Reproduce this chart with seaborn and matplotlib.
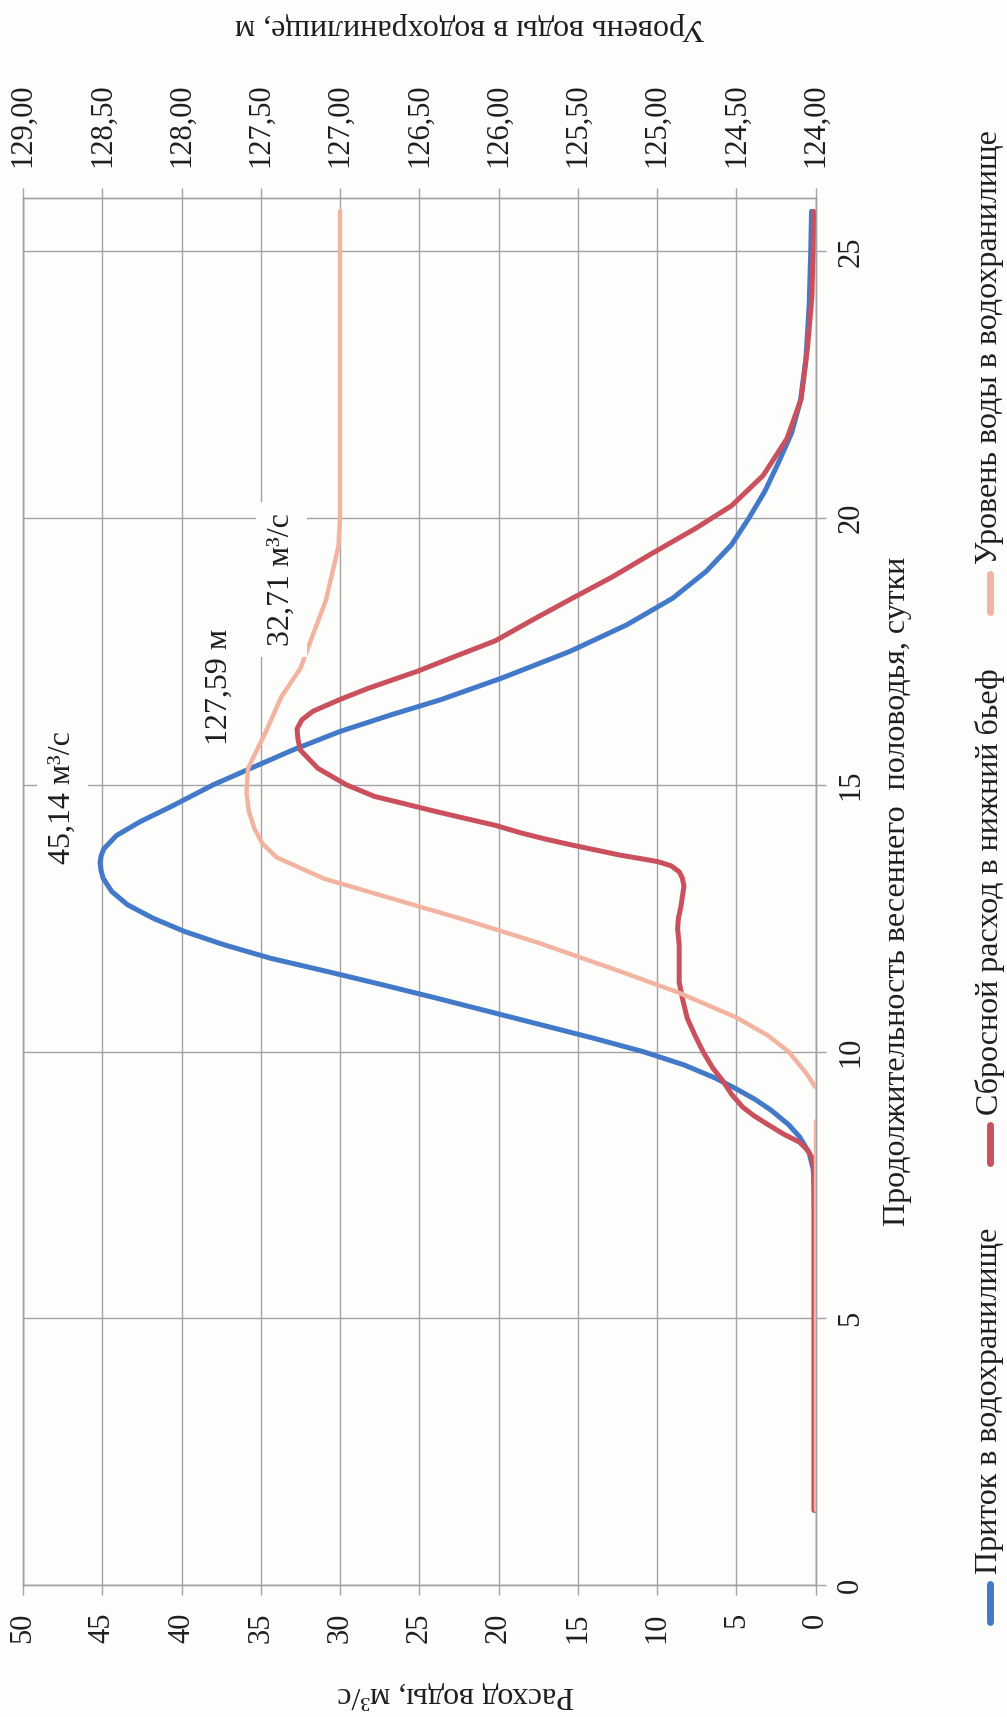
import numpy as np
import pandas as pd
import matplotlib
matplotlib.use("Agg")
import matplotlib.pyplot as plt
import seaborn as sns
from matplotlib.lines import Line2D

# ---- data -------------------------------------------------------------
inflow_day = [1.4, 3.0, 5.0, 6.0, 7.0, 7.5, 7.8, 8.1, 8.4, 8.63, 8.9, 9.1, 9.3, 9.5,
              9.75, 10.0, 10.25, 10.5, 10.75, 11.0, 11.25, 11.5, 11.75, 12.0, 12.25,
              12.5, 12.75, 13.0, 13.25, 13.4, 13.54, 13.67, 13.8, 14.05, 14.31, 14.6,
              15.0, 15.3, 15.65, 16.0, 16.3, 16.6, 17.0, 17.5, 18.0, 18.5, 19.0, 19.5,
              20.0, 20.5, 21.0, 21.6, 22.2, 23.0, 24.0, 25.0, 25.75]
inflow_q = [0.0, 0.0, 0.0, 0.0, 0.03, 0.07, 0.15, 0.4, 1.0, 1.7, 2.8, 3.8, 5.0, 6.3,
            8.3, 10.9, 14.0, 17.3, 20.6, 23.9, 27.3, 30.8, 34.4, 37.3, 39.8,
            41.8, 43.4, 44.4, 44.95, 45.08, 45.14, 45.07, 44.9, 44.1, 42.6, 40.6,
            38.0, 35.7, 33.0, 30.0, 26.9, 23.6, 19.8, 15.5, 11.9, 9.0, 6.9, 5.3,
            4.2, 3.2, 2.4, 1.5, 0.95, 0.6, 0.4, 0.3, 0.25]

release_day = [1.4, 3.0, 5.0, 7.0, 7.8, 8.0, 8.15, 8.3, 8.45, 8.63, 8.8, 8.96, 9.2,
               9.43, 9.7, 10.0, 10.3, 10.63, 11.0, 11.3, 11.7, 12.0, 12.3, 12.5, 12.7,
               12.9, 13.1, 13.25, 13.37, 13.48, 13.56, 13.61, 13.68, 13.78, 13.88,
               13.98, 14.1, 14.24, 14.37, 14.51, 14.65, 14.78, 15.0, 15.31, 15.65,
               15.85, 16.05, 16.22, 16.38, 16.6, 16.8, 17.13, 17.4, 17.7, 18.1, 18.52,
               18.9, 19.34, 19.8, 20.23, 20.8, 21.49, 22.24, 23.2, 24.14, 25.0, 25.75]
release_q = [0.1, 0.1, 0.1, 0.1, 0.12, 0.2, 0.5, 1.0, 2.0, 3.0, 3.9, 4.6, 5.3,
             5.8, 6.5, 7.1, 7.6, 8.1, 8.4, 8.6, 8.6, 8.6, 8.7, 8.65, 8.5,
             8.4, 8.3, 8.4, 8.6, 9.1, 9.95, 10.9, 12.3, 13.9, 15.5,
             17.0, 18.6, 20.2, 22.1, 24.1, 26.0, 27.8, 29.6, 31.4, 32.5,
             32.65, 32.71, 32.4, 31.7, 30.0, 28.3, 25.1, 22.8, 20.2, 17.8, 15.2,
             12.8, 10.3, 7.6, 5.3, 3.3, 1.8, 0.9, 0.5, 0.23, 0.15, 0.12]

# reservoir level: two pieces (before and after the filling starts)
level_day_a = [1.4, 3.0, 5.0, 7.0, 8.7]
level_m_a = [124.0, 124.0, 124.0, 124.0, 124.0]
level_day_b = [9.33, 9.6, 10.0, 10.3, 10.64, 11.1, 11.5, 12.04, 12.44, 12.84, 13.24,
               13.64, 13.9, 14.18, 14.5, 14.85, 15.31, 15.98, 16.65, 17.18, 17.82,
               18.45, 19.08, 19.47, 20.0, 21.0, 22.0, 23.0, 24.0, 25.0, 25.75]
level_m_b = [124.0, 124.06, 124.17, 124.3, 124.5, 124.86, 125.23, 125.75, 126.18,
             126.64, 127.1, 127.4, 127.49, 127.54, 127.575, 127.59, 127.58, 127.47,
             127.37, 127.25, 127.17, 127.09, 127.04, 127.01, 127.0, 127.0, 127.0,
             127.0, 127.0, 127.0, 127.0]

flow_ticks = [0, 5, 10, 15, 20, 25, 30, 35, 40, 45, 50]
day_ticks = [0, 5, 10, 15, 20, 25]
level_ticks = [124.0, 124.5, 125.0, 125.5, 126.0, 126.5, 127.0, 127.5, 128.0, 128.5, 129.0]
level_tick_labels = ["124,00", "124,50", "125,00", "125,50", "126,00", "126,50",
                     "127,00", "127,50", "128,00", "128,50", "129,00"]

series_names = ["Приток в водохранилище", "Сбросной расход в нижний бьеф",
                "Уровень воды в водохранилище"]
day_label = "Продолжительность весеннего  половодья, сутки"
flow_label = "Расход воды, м³/с"
level_label = "Уровень воды в водохранилище, м"

# ---- style ------------------------------------------------------------
BG = "#fdfdfb"
GRID = "#a2a2a8"
C_IN = "#4279c8"
C_OUT = "#c9505c"
C_LEV = "#f2b4a0"
TXT = "#1e1e1e"
FS_TICK = 22
FS_TEXT = 23

sns.set_theme(style="white")
plt.rcParams["font.family"] = ["Liberation Serif", "DejaVu Serif"]
plt.rcParams["text.color"] = TXT

W, H = 1007, 1717
fig = plt.figure(figsize=(W / 100, H / 100), dpi=100, facecolor=BG)
x0, x1, y_top, y_bot = 23, 815.5, 198, 1585
ax = fig.add_axes([x0 / W, 1 - y_bot / H, (x1 - x0) / W, (y_bot - y_top) / H])
ax.set_facecolor(BG)

# the chart is laid out turned on its side: days run upward, discharge runs leftward
df_in = pd.DataFrame({"day": inflow_day, "q": inflow_q})
df_out = pd.DataFrame({"day": release_day, "q": release_q})
sns.lineplot(data=df_in, x="q", y="day", sort=False, estimator=None, orient="y",
             color=C_IN, lw=3.6, ax=ax, zorder=3)
sns.lineplot(data=df_out, x="q", y="day", sort=False, estimator=None, orient="y",
             color=C_OUT, lw=3.6, ax=ax, zorder=4)
for ln in ax.lines:
    ln.set_solid_joinstyle("round")

ax.set_xlim(50, 0)
ax.set_ylim(0, 26)
ax.set_xticks(flow_ticks)
ax.set_xticklabels([str(v) for v in flow_ticks])
ax.set_yticks(day_ticks)
ax.set_yticklabels([str(v) for v in day_ticks])
ax.set_xlabel("")
ax.set_ylabel("")
ax.grid(True, color=GRID, lw=1.0)
ax.set_axisbelow(True)
ax.yaxis.tick_right()
ax.tick_params(axis="x", bottom=True, top=False, direction="out", length=7,
               width=1.0, color=GRID, pad=13, labelsize=FS_TICK, labelrotation=90,
               labelcolor=TXT)
ax.tick_params(axis="y", right=True, left=False, labelright=True, labelleft=False,
               direction="out", length=7, width=1.0, color=GRID, pad=8,
               labelsize=FS_TICK, labelrotation=90, labelcolor=TXT)
for lab in ax.get_yticklabels():
    lab.set_va("center")
for sp in ax.spines.values():
    sp.set_color(GRID)
    sp.set_linewidth(1.0)

# level on the secondary axis (top)
ax2 = ax.twiny()
df_lev = pd.DataFrame({
    "day": level_day_a + level_day_b,
    "level": level_m_a + level_m_b,
    "piece": [0] * len(level_day_a) + [1] * len(level_day_b),
})
sns.lineplot(data=df_lev, x="level", y="day", units="piece", estimator=None,
             sort=False, orient="y", color=C_LEV, lw=3.2, ax=ax2, zorder=5,
             legend=False)
for ln in ax2.lines:
    ln.set_solid_joinstyle("round")
ax2.set_xlim(129, 124)
ax2.set_ylim(0, 26)
ax2.set_xticks(level_ticks)
ax2.set_xticklabels(level_tick_labels)
ax2.set_xlabel("")
ax2.set_ylabel("")
ax2.grid(False)
ax2.tick_params(axis="x", top=True, bottom=False, direction="out", length=7,
                width=1.0, color=GRID, pad=15, labelsize=FS_TICK, labelrotation=90,
                labelcolor=TXT)
ax2.tick_params(axis="y", left=False, right=False, labelleft=False, labelright=False)
for sp in ax2.spines.values():
    sp.set_color(GRID)
    sp.set_linewidth(1.0)

# value notes at the peaks
box = dict(boxstyle="square,pad=0.35", fc=BG, ec="none")
peak_in = max(inflow_q)
peak_out = max(release_q)
peak_lev = max(level_m_b)
ax.text(47.5, 14.76, f"{peak_in:.2f}".replace(".", ",") + " м³/с", rotation=90,
        ha="center", va="center", fontsize=FS_TEXT, bbox=box, zorder=6)
ax2.text(127.76, 16.84, f"{peak_lev:.2f}".replace(".", ",") + " м", rotation=90,
         ha="center", va="center", fontsize=FS_TEXT, bbox=box, zorder=6)
ax2.text(127.37, 18.85, f"{peak_out:.2f}".replace(".", ",") + " м³/с", rotation=90,
         ha="center", va="center", fontsize=FS_TEXT, bbox=box, zorder=6)

# axis titles
fig.text(898 / W, 1 - 891 / H, day_label, rotation=90, ha="center", va="center",
         fontsize=FS_TEXT)
fig.text(456 / W, 1 - 1694 / H, flow_label, rotation=180, ha="center", va="center",
         fontsize=FS_TEXT)
fig.text(470 / W, 1 - 27 / H, level_label, rotation=180, ha="center", va="center",
         fontsize=FS_TEXT)

# legend, stacked upward along the right edge
leg_x = 990
dash_len = 38
leg_entries = [(1622, C_IN), (1163, C_OUT), (612, C_LEV)]
for (ystart, col), name in zip(leg_entries, series_names):
    fig.add_artist(Line2D([leg_x / W, leg_x / W],
                          [1 - ystart / H, 1 - (ystart - dash_len) / H],
                          color=col, lw=5.0, solid_capstyle="round",
                          transform=fig.transFigure))
    fig.text(leg_x / W, 1 - (ystart - dash_len - 10) / H, name, rotation=90,
             ha="center", va="bottom", fontsize=FS_TEXT)

fig.savefig("out.png", dpi=100, facecolor=BG)
